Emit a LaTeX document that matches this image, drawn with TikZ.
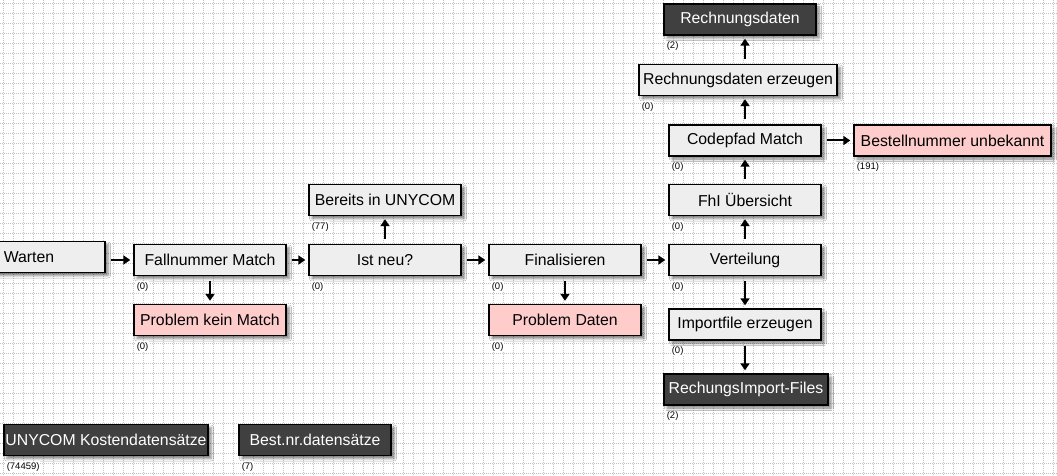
\documentclass[tikz,border=0pt]{standalone}
\usepackage{fontspec}
\setmainfont{Liberation Sans}
\usetikzlibrary{arrows.meta,shadows.blur}
\definecolor{boxgray}{HTML}{EEEEEE}
\definecolor{boxpink}{HTML}{FFCCCC}
\definecolor{boxdark}{HTML}{404040}
\definecolor{gridc}{HTML}{C2C2C2}
\begin{document}
\begin{tikzpicture}[x=1pt,y=-1pt,
  box/.style={draw=black,line width=1.4pt,minimum height=31pt,minimum width=152pt,inner sep=0pt,
    font=\fontsize{15.8}{18}\selectfont,
    blur shadow={shadow xshift=3pt,shadow yshift=-3pt,shadow blur radius=2.5pt,shadow opacity=50}},
  gbox/.style={box,fill=boxgray},
  pbox/.style={box,fill=boxpink},
  dbox/.style={box,fill=boxdark,text=white},
  cnt/.style={fill=white,inner sep=0.8pt,font=\fontsize{9.5}{11}\selectfont,anchor=west},
  flow/.style={-{Triangle[width=9pt,length=7pt]},line width=2pt,shorten <=5pt,shorten >=3pt},
  gridline/.style={gridc,line width=0.7pt,dash pattern=on 1pt off 1pt}]
\useasboundingbox (0,0) rectangle (1057,476);
\clip (0,0) rectangle (1057,476);
\fill[white] (0,0) rectangle (1057,476);
\foreach \i in {0,...,105} \draw[gridline] ({3.5+10*\i},0) -- ({3.5+10*\i},476);
\foreach \j in {0,...,47} \draw[gridline] (0,{3.5+10*\j}) -- (1057,{3.5+10*\j});

% nodes
\node[gbox] (warten) at (29,257) {Warten};
\node[gbox] (fall) at (210,260) {Fallnummer Match};
\node[pbox] (probkm) at (210,320) {Problem kein Match};
\node[gbox] (bereits) at (385,200) {Bereits in UNYCOM};
\node[gbox] (istneu) at (385,260) {Ist neu?};
\node[gbox] (final) at (565,260) {Finalisieren};
\node[pbox] (probd) at (565,320) {Problem Daten};
\node[gbox] (verteil) at (745,260) {Verteilung};
\node[gbox] (fhi) at (745,200) {FhI Übersicht};
\node[gbox] (codepfad) at (745,140.5) {Codepfad Match};
\node[gbox,minimum width=198pt] (rde) at (738,80) {Rechnungsdaten erzeugen};
\node[dbox] (rd) at (740,19.5) {Rechnungsdaten};
\node[pbox,minimum width=197pt] (bestell) at (952.5,140.5) {Bestellnummer unbekannt};
\node[gbox] (importf) at (745,324.5) {Importfile erzeugen};
\node[dbox,minimum width=164pt] (rif) at (746,389.5) {RechungsImport-Files};
\node[dbox,minimum width=204pt] (unykd) at (106,440) {UNYCOM Kostendatensätze};
\node[dbox] (bestnr) at (315,440) {Best.nr.datensätze};

% counters
\node[cnt] (c1) at ([xshift=2.5pt,yshift=-10.5pt]fall.south west) {(0)};
\node[cnt] (c2) at ([xshift=2.5pt,yshift=-10.5pt]probkm.south west) {(0)};
\node[cnt] (c3) at ([xshift=2.5pt,yshift=-10.5pt]bereits.south west) {(77)};
\node[cnt] (c4) at ([xshift=2.5pt,yshift=-10.5pt]istneu.south west) {(0)};
\node[cnt] (c5) at ([xshift=2.5pt,yshift=-10.5pt]final.south west) {(0)};
\node[cnt] (c6) at ([xshift=2.5pt,yshift=-10.5pt]probd.south west) {(0)};
\node[cnt] (c7) at ([xshift=2.5pt,yshift=-10.5pt]verteil.south west) {(0)};
\node[cnt] (c8) at ([xshift=2.5pt,yshift=-10.5pt]fhi.south west) {(0)};
\node[cnt] (c9) at ([xshift=2.5pt,yshift=-10.5pt]codepfad.south west) {(0)};
\node[cnt] (c10) at ([xshift=2.5pt,yshift=-10.5pt]bestell.south west) {(191)};
\node[cnt] (c11) at ([xshift=2.5pt,yshift=-10.5pt]rde.south west) {(0)};
\node[cnt] (c12) at ([xshift=2.5pt,yshift=-10.5pt]rd.south west) {(2)};
\node[cnt] (c13) at ([xshift=2.5pt,yshift=-10.5pt]importf.south west) {(0)};
\node[cnt] (c14) at ([xshift=2.5pt,yshift=-10.5pt]rif.south west) {(2)};
\node[cnt] (c15) at ([xshift=2.5pt,yshift=-10.5pt]unykd.south west) {(74459)};
\node[cnt] (c16) at ([xshift=2.5pt,yshift=-10.5pt]bestnr.south west) {(7)};

% connectors
\draw[flow] (warten.east |- fall.east) -- (fall.west);
\draw[flow] (fall) -- (probkm);
\draw[flow] (fall) -- (istneu);
\draw[flow] (istneu) -- (bereits);
\draw[flow] (istneu) -- (final);
\draw[flow] (final) -- (probd);
\draw[flow] (final) -- (verteil);
\draw[flow] (verteil) -- (fhi);
\draw[flow] (verteil) -- (importf);
\draw[flow] (importf) -- (rif.north -| importf.south);
\draw[flow] (fhi) -- (codepfad);
\draw[flow] (codepfad) -- (bestell);
\draw[flow] (codepfad.north) -- (codepfad.north |- rde.south);
\draw[flow] (rde.north -| codepfad.north) -- (rd.south -| codepfad.north);
\end{tikzpicture}
\end{document}
